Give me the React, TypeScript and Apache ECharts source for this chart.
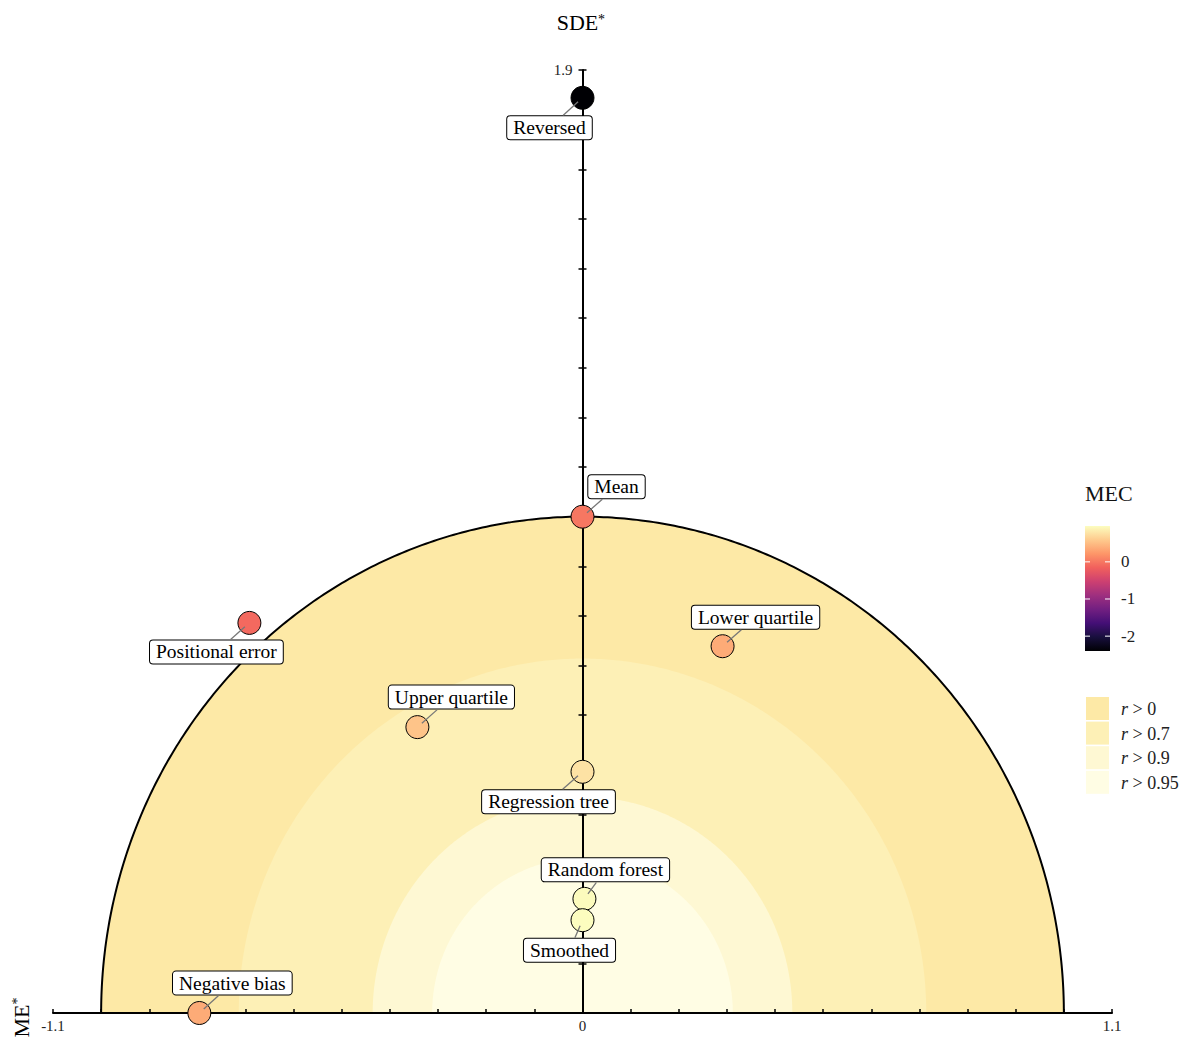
import React, { useEffect, useRef } from 'react';
import * as echarts from 'echarts';

// ---- data ----
const names = ['Reversed', 'Mean', 'Positional error', 'Lower quartile', 'Upper quartile', 'Regression tree', 'Random forest', 'Smoothed', 'Negative bias'];
const meStar = [0, 0, -0.692, 0.291, -0.343, 0, 0.004, 0, -0.796];
const sdeStar = [1.844, 1.0, 0.786, 0.739, 0.576, 0.486, 0.23, 0.187, 0];
const mecValues = [-2.4, 0.0, -0.097, 0.369, 0.55, 0.764, 0.947, 0.965, 0.366];
const rThresholds = [0, 0.7, 0.9, 0.95];
const rLabels = ['0', '0.7', '0.9', '0.95'];
const xTickLabels = ['-1.1', '0', '1.1'];
const yTickLabels = ['1.9'];
const mecTicks = [0, -1, -2];

// ---- styles / layout ----
const labelDx = [-33, 34, -33, 33, 34, -34, 21, -13, 33];
const labelDy = [30, -30, 29, -29, -30, 30, -29, 30, -30];
const regionColors = ['#fde9a6', '#fdf0b6', '#fef8d3', '#fffde4'];
const magma = ['#000004', '#180f3d', '#440f76', '#721f81', '#9e2f7f', '#cd4071', '#f1605d', '#fd9668', '#feca8d', '#fcfdbf'];
const FONT = "'Liberation Serif', 'DejaVu Serif', serif";
const LABEL_FS = 19.5;
const LABEL_PAD = [2, 6, 1, 6];
const LABEL_LH = 20;

function measure(text: string, font: string): number {
  const c = document.createElement('canvas').getContext('2d');
  if (!c) return text.length * 9;
  c.font = font;
  return c.measureText(text).width;
}

export default function App() {
  const ref = useRef<HTMLDivElement>(null);
  useEffect(() => {
    if (!ref.current) return;
    const chart = echarts.init(ref.current, null, { renderer: 'svg' });
    const mecMin = Math.min(...mecValues);
    const mecMax = Math.max(...mecValues);
    const cbX = 1085, cbY = 526, cbW = 25, cbH = 125;
    const cbPos = (v: number) => cbY + ((mecMax - v) / (mecMax - mecMin)) * cbH;

    const boxHalfW = names.map((n) => (measure(n, `${LABEL_FS}px 'Liberation Serif'`) + LABEL_PAD[1] + LABEL_PAD[3] + 2) / 2);
    const boxHalfH = (LABEL_LH + LABEL_PAD[0] + LABEL_PAD[2] + 2) / 2;

    const graphics: any[] = [];
    // axis titles
    graphics.push({ type: 'text', x: 577.5, y: 22.5, style: { text: 'SDE', font: `22px ${FONT}`, fill: '#000', align: 'center', verticalAlign: 'middle' } });
    graphics.push({ type: 'text', x: 601.5, y: 19, style: { text: '*', font: `14px ${FONT}`, fill: '#000', align: 'center', verticalAlign: 'middle' } });
    graphics.push({
      type: 'group', x: 21, y: 1021, rotation: Math.PI / 2,
      children: [
        { type: 'text', x: 0, y: 0, style: { text: 'ME', font: `22px ${FONT}`, fill: '#000', align: 'center', verticalAlign: 'middle' } },
        { type: 'text', x: 20, y: -3.5, style: { text: '*', font: `14px ${FONT}`, fill: '#000', align: 'center', verticalAlign: 'middle' } },
      ],
    });
    // colorbar
    graphics.push({ type: 'text', x: 1085, y: 493, style: { text: 'MEC', font: `22px ${FONT}`, fill: '#111', align: 'left', verticalAlign: 'middle' } });
    graphics.push({
      type: 'rect', shape: { x: cbX, y: cbY, width: cbW, height: cbH },
      style: {
        fill: new echarts.graphic.LinearGradient(0, 0, 0, 1,
          magma.slice().reverse().map((c, i) => ({ offset: i / (magma.length - 1), color: c }))),
      },
    });
    mecTicks.forEach((t) => {
      const y = cbPos(t);
      graphics.push({ type: 'line', shape: { x1: cbX, y1: y, x2: cbX + 5, y2: y }, style: { stroke: '#fff', lineWidth: 1 } });
      graphics.push({ type: 'line', shape: { x1: cbX + cbW - 5, y1: y, x2: cbX + cbW, y2: y }, style: { stroke: '#fff', lineWidth: 1 } });
      graphics.push({ type: 'text', x: 1121, y, style: { text: String(t), font: `17px ${FONT}`, fill: '#222', align: 'left', verticalAlign: 'middle' } });
    });
    // r legend
    rLabels.forEach((lab, i) => {
      const y = 697 + i * 24.6;
      graphics.push({ type: 'rect', shape: { x: 1086, y, width: 23, height: 23 }, style: { fill: regionColors[i] } });
      graphics.push({
        type: 'text', x: 1121, y: y + 12,
        style: {
          text: `{i|r} {n|> ${lab}}`,
          verticalAlign: 'middle', align: 'left',
          rich: {
            i: { fontFamily: FONT, fontStyle: 'italic', fontSize: 18, fill: '#222', color: '#222' },
            n: { fontFamily: FONT, fontSize: 18, fill: '#222', color: '#222' },
          },
          font: `18px ${FONT}`, fill: '#222',
        },
      });
    });

    const scatterData = names.map((n, i) => ({ name: n, value: [meStar[i], sdeStar[i], mecValues[i]] }));

    const yAxisBase = {
      type: 'value', min: 0, max: 1.9, interval: 0.1,
      splitLine: { show: false },
    };

    chart.setOption({
      animation: false,
      grid: { left: 53, right: 75, top: 70, bottom: 28, containLabel: false },
      xAxis: {
        type: 'value', min: -1.1, max: 1.1, interval: 0.1,
        splitLine: { show: false },
        axisLine: { show: true, onZero: true, lineStyle: { color: '#000', width: 2 } },
        axisTick: { show: true, inside: true, length: 4, lineStyle: { color: '#000', width: 1.5 } },
        axisLabel: {
          show: true, margin: 5, fontFamily: FONT, fontSize: 15, color: '#222',
          showMinLabel: true, showMaxLabel: true,
          formatter: (v: number) => {
            const s = String(Math.round(v * 10) / 10);
            return xTickLabels.includes(s) ? s : '';
          },
        },
      },
      yAxis: [
        {
          ...yAxisBase,
          position: 'left',
          axisLine: { show: true, onZero: true, onZeroAxisIndex: 0, lineStyle: { color: '#000', width: 2 } },
          axisTick: { show: true, inside: false, length: 4, lineStyle: { color: '#000', width: 1.5 } },
          axisLabel: { show: false },
        },
        {
          ...yAxisBase,
          position: 'right',
          axisLine: { show: false, onZero: true, onZeroAxisIndex: 0 },
          axisTick: { show: true, inside: false, length: 4, lineStyle: { color: '#000', width: 1.5 } },
          axisLabel: { show: false },
        },
      ],
      visualMap: {
        type: 'continuous', show: false, seriesIndex: 1, dimension: 2,
        min: mecMin, max: mecMax,
        inRange: { color: magma },
      },
      series: [
        {
          type: 'custom',
          z: -1,
          silent: true,
          data: rThresholds.map((t) => [t, 0]),
          encode: { x: 0, y: 1 },
          renderItem: (params: any, api: any) => {
            const t = api.value(0);
            const rad = Math.sqrt(1 - t * t);
            const pts: number[][] = [];
            for (let k = 0; k <= 360; k++) {
              const a = (Math.PI * k) / 360;
              pts.push(api.coord([rad * Math.cos(a), rad * Math.sin(a)]));
            }
            const children: any[] = [
              { type: 'polygon', shape: { points: pts }, style: { fill: regionColors[params.dataIndex] } },
            ];
            if (params.dataIndex === 0) {
              children.push({ type: 'polyline', shape: { points: pts }, style: { stroke: '#000', lineWidth: 2, fill: null } });
            }
            return { type: 'group', children };
          },
        },
        {
          type: 'scatter',
          data: scatterData,
          symbol: 'circle',
          symbolSize: 23,
          itemStyle: { borderColor: '#000', borderWidth: 1, opacity: 1 },
          label: {
            show: true,
            position: 'inside',
            formatter: '{b}',
            fontFamily: FONT,
            fontSize: LABEL_FS,
            lineHeight: LABEL_LH,
            color: '#000',
            backgroundColor: '#fff',
            borderColor: '#000',
            borderWidth: 1,
            borderRadius: 3,
            padding: LABEL_PAD,
          },
          labelLayout: (p: any) => ({ dx: labelDx[p.dataIndex], dy: labelDy[p.dataIndex] }),
          emphasis: { disabled: true },
        },
        {
          type: 'custom',
          z: 3,
          silent: true,
          data: scatterData.map((d) => d.value),
          encode: { x: 0, y: 1 },
          renderItem: (params: any, api: any) => {
            const i = params.dataIndex;
            const c = api.coord([api.value(0), api.value(1)]);
            const dx = labelDx[i], dy = labelDy[i];
            const len = Math.sqrt(dx * dx + dy * dy);
            const t = Math.min(boxHalfW[i] / Math.abs(dx), boxHalfH / Math.abs(dy));
            const ex = c[0] + dx - dx * t;
            const ey = c[1] + dy - dy * t;
            const sx = c[0] + (dx / len) * 6;
            const sy = c[1] + (dy / len) * 6;
            return { type: 'line', shape: { x1: sx, y1: sy, x2: ex, y2: ey }, style: { stroke: '#777', lineWidth: 1.3 } };
          },
        },
      ],
      graphic: graphics,
    });

    // y-axis tick label at the axis top (positioned through the axes' scales)
    const extra: any[] = yTickLabels.map((s) => {
      const p = chart.convertToPixel({ gridIndex: 0 }, [0, parseFloat(s)]) as number[];
      return { type: 'text', x: p[0] - 10, y: p[1], style: { text: s, font: `15px ${FONT}`, fill: '#222', align: 'right', verticalAlign: 'middle' } };
    });
    chart.setOption({ graphic: [...graphics, ...extra] });

    return () => chart.dispose();
  }, []);
  return <div ref={ref} style={{ position: 'absolute', left: 0, top: 0, width: 1187, height: 1041 }} />;
}
